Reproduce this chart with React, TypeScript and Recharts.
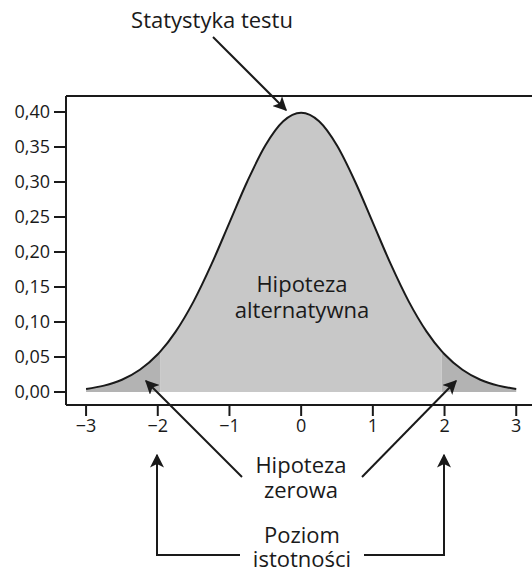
import React from 'react';
import { Area, ComposedChart, Line, ReferenceLine, XAxis, YAxis } from 'recharts';

// standard normal density
const zValues = [
  -3, -2.75, -2.5, -2.25, -2, -1.96, -1.75, -1.5, -1.25, -1, -0.75, -0.5, -0.25, 0,
  0.25, 0.5, 0.75, 1, 1.25, 1.5, 1.75, 1.96, 2, 2.25, 2.5, 2.75, 3,
];
const density = [
  0.0044, 0.0091, 0.0175, 0.0317, 0.054, 0.0584, 0.0863, 0.1295, 0.1826, 0.242, 0.3011, 0.3521, 0.3867, 0.3989,
  0.3867, 0.3521, 0.3011, 0.242, 0.1826, 0.1295, 0.0863, 0.0584, 0.054, 0.0317, 0.0175, 0.0091, 0.0044,
];
const criticalZ = 1.96;
const xTicks = [-3, -2, -1, 0, 1, 2, 3];
const yTicks = [0, 0.05, 0.1, 0.15, 0.2, 0.25, 0.3, 0.35, 0.4];

const X_DOMAIN: [number, number] = [-3.28, 3.22];
const Y_DOMAIN: [number, number] = [-0.0186, 0.4229];

const FONT = '"Open Sans", "Noto Sans", sans-serif';
const INK = '#1a1a1a';

const rows = zValues.map((z, i) => ({
  z,
  y: density[i],
  left: z <= -criticalZ ? density[i] : null,
  mid: z >= -criticalZ && z <= criticalZ ? density[i] : null,
  right: z >= criticalZ ? density[i] : null,
}));

function Annotations() {
  const text = { fontFamily: FONT, fontSize: 22, fill: INK, textAnchor: 'middle' as const };
  const line = { stroke: INK, strokeWidth: 2, fill: 'none' };
  return (
    <svg
      width={532}
      height={572}
      style={{ position: 'absolute', left: 0, top: 0, pointerEvents: 'none' }}
    >
      <defs>
        <marker id="head" viewBox="0 0 10 10" refX="9" refY="5" markerWidth="7" markerHeight="7" orient="auto">
          <path d="M0,0 L10,5 L0,10 L2.5,5 Z" fill={INK} />
        </marker>
      </defs>
      <text x={212} y={28} {...text}>Statystyka testu</text>
      <line x1={213} y1={37} x2={286} y2={110} {...line} markerEnd="url(#head)" />

      <text x={302} y={292} {...text}>Hipoteza</text>
      <text x={302} y={318} {...text}>alternatywna</text>

      <text x={301} y={473} {...text}>Hipoteza</text>
      <text x={301} y={498} {...text}>zerowa</text>
      <line x1={242} y1={477} x2={146} y2={381} {...line} markerEnd="url(#head)" />
      <line x1={362} y1={477} x2={456} y2={381} {...line} markerEnd="url(#head)" />

      <text x={302} y={543} {...text}>Poziom</text>
      <text x={302} y={567} {...text}>istotności</text>
      <polyline points="240,555 157,555 157,455" {...line} markerEnd="url(#head)" />
      <polyline points="364,555 444,555 444,455" {...line} markerEnd="url(#head)" />
    </svg>
  );
}

export default function App() {
  const tickStyle = { fontFamily: FONT, fontSize: 18, fill: INK };
  return (
    <div style={{ position: 'absolute', left: 0, top: 0, width: 532, height: 572, background: '#fff' }}>
      <ComposedChart
        width={532}
        height={572}
        data={rows}
        margin={{ top: 96, right: 0, bottom: 137, left: 0 }}
      >
        <XAxis
          dataKey="z"
          type="number"
          domain={X_DOMAIN}
          allowDataOverflow
          ticks={xTicks}
          tickFormatter={(v: number) => (v < 0 ? `\u2212${Math.abs(v)}` : `${v}`)}
          tick={tickStyle}
          tickSize={11}
          tickMargin={3}
          height={30}
          axisLine={{ stroke: INK, strokeWidth: 2 }}
          tickLine={{ stroke: INK, strokeWidth: 2 }}
        />
        <YAxis
          type="number"
          domain={Y_DOMAIN}
          allowDataOverflow
          ticks={yTicks}
          tickFormatter={(v: number) => v.toFixed(2).replace('.', ',')}
          tick={tickStyle}
          tickSize={12}
          tickMargin={4}
          width={66}
          axisLine={{ stroke: INK, strokeWidth: 2 }}
          tickLine={{ stroke: INK, strokeWidth: 2 }}
        />
        <ReferenceLine y={Y_DOMAIN[1]} stroke={INK} strokeWidth={2} />
        <Area dataKey="left" type="monotone" baseValue={0} stroke="none" fill="#b3b3b3" fillOpacity={1} isAnimationActive={false} />
        <Area dataKey="mid" type="monotone" baseValue={0} stroke="none" fill="#c8c8c8" fillOpacity={1} isAnimationActive={false} />
        <Area dataKey="right" type="monotone" baseValue={0} stroke="none" fill="#b3b3b3" fillOpacity={1} isAnimationActive={false} />
        <Line dataKey="y" type="monotone" stroke={INK} strokeWidth={2} dot={false} isAnimationActive={false} />
      </ComposedChart>
      <Annotations />
    </div>
  );
}
